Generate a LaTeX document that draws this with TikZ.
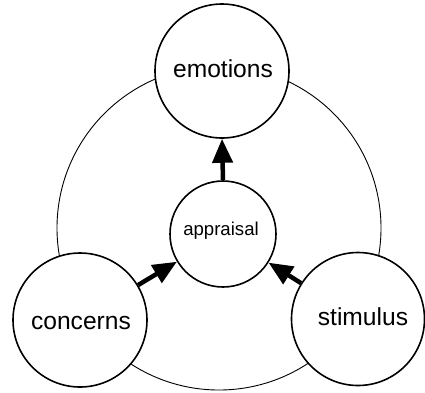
\documentclass[tikz,border=0pt]{standalone}
\usepackage{fontspec}
\setmainfont{Liberation Sans}
\usetikzlibrary{arrows.meta}
\begin{document}
\begin{tikzpicture}[x=1pt,y=-1pt,
  bubble/.style={circle,draw,line width=1.6pt,fill=white,inner sep=0pt,minimum size=#1},
  bigtext/.style={font=\fontsize{24.6}{28}\selectfont},
  smalltext/.style={font=\fontsize{18.6}{22}\selectfont},
  flow/.style={line width=4.5pt,-{Triangle[length=24pt,width=20pt]}}]
\useasboundingbox (0,0) rectangle (425,392);
\draw[line width=0.9pt] (219,228) circle[radius=162];
\node[bubble=134pt] (emo) at (222,71) {};
\node[bubble=106pt] (app) at (223,234) {};
\node[bubble=134pt] (con) at (80,320) {};
\node[bubble=133pt] (sti) at (358,319) {};
\node[bigtext] at (223,69) {emotions};
\node[bigtext] at (81,323) {concerns};
\node[bigtext] at (363,317) {stimulus};
\node[smalltext] at (221,231) {appraisal};
\draw[flow] (app.north) -- (emo.south);
\draw[flow,shorten <=0pt] (con) -- (app);
\draw[flow] (sti) -- (app);
\end{tikzpicture}
\end{document}
